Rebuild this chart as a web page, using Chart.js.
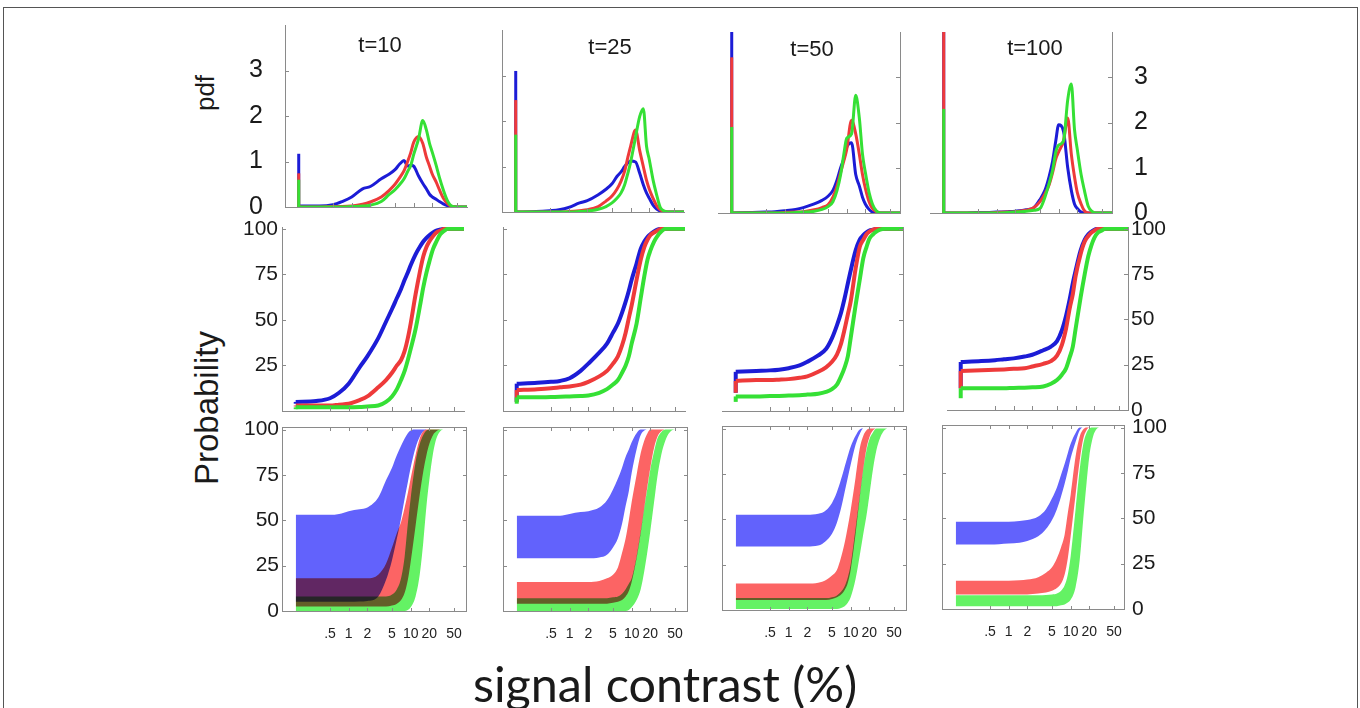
<!DOCTYPE html>
<html>
<head>
<meta charset="utf-8">
<script src="https://cdn.jsdelivr.net/npm/chart.js@4.4.0/dist/chart.umd.min.js"></script>
<style>
  html, body { margin: 0; padding: 0; background: #fff; }
  body { width: 1360px; height: 708px; position: relative; overflow: hidden; font-family: "Liberation Sans", Arial, sans-serif; }
  .frame { position: absolute; left: 3px; top: 7px; width: 1353px; height: 720px; border: 1px solid #555; }
  .panel { position: absolute; }
  .lbl { position: absolute; color: #1a1a1a; white-space: nowrap; transform: translate(-50%, -50%); }
  .rot { transform: translate(-50%, -50%) rotate(-90deg); }
</style>
</head>
<body>
<div class="frame"></div>
<div class="lbl rot" style="left:205px;top:93px;font-size:26px;">pdf</div>
<div class="lbl rot" style="left:207px;top:408px;font-size:33px;">Probability</div>
<div class="lbl" style="left:665px;top:683px;font-size:48.5px;font-family:Lato,'Open Sans',sans-serif;">signal contrast (%)</div>

<script>
const contrastGrid = [0.14, 0.3, 0.5, 0.7, 1, 1.5, 2, 3, 4, 5, 6, 7, 8, 9, 10, 12, 14, 16, 18, 20, 23, 26, 30, 35, 40, 50, 78];
const xTicks = [0.5, 1, 2, 5, 10, 20, 50];
const xTickLabels = [".5", "1", "2", "5", "10", "20", "50"];
const timeLabels = ["t=10", "t=25", "t=50", "t=100"];

// top row : pdf, one array per time step (t=10, 25, 50, 100)
const pdfBlue = [
  [0.02,0.02,0.05,0.12,0.22,0.4,0.45,0.62,0.72,0.82,0.95,1.02,0.9,0.92,0.9,0.68,0.52,0.4,0.28,0.22,0.17,0.12,0.07,0.03,0.01,0,0],
  [0,0.01,0.03,0.05,0.1,0.2,0.25,0.38,0.5,0.62,0.78,0.88,1.0,1.08,1.12,1.1,0.85,0.6,0.42,0.3,0.15,0.07,0.02,0,0,0,0],
  [0,0.01,0.02,0.03,0.05,0.08,0.12,0.2,0.28,0.37,0.5,0.73,1.0,1.2,1.45,1.55,0.85,0.6,0.35,0.2,0.08,0.02,0,0,0,0,0],
  [0,0,0.01,0.01,0.02,0.03,0.04,0.07,0.12,0.3,0.5,0.8,1.15,1.6,1.95,1.8,1.0,0.5,0.2,0.1,0.02,0,0,0,0,0,0]
];
const pdfRed = [
  [0,0,0.01,0.01,0.02,0.06,0.11,0.22,0.36,0.5,0.65,0.8,1.0,1.2,1.42,1.55,1.4,1.1,0.9,0.72,0.55,0.38,0.2,0.08,0.02,0,0],
  [0,0,0,0,0.01,0.03,0.05,0.12,0.24,0.35,0.5,0.68,0.9,1.2,1.45,1.8,1.35,1.0,0.7,0.5,0.3,0.15,0.05,0.01,0,0,0],
  [0,0,0,0,0.01,0.02,0.03,0.07,0.12,0.18,0.35,0.6,0.9,1.15,1.4,2.05,1.75,1.3,0.85,0.55,0.25,0.1,0.03,0,0,0,0],
  [0,0,0,0,0.01,0.02,0.03,0.06,0.12,0.25,0.42,0.62,0.9,1.2,1.35,1.6,2.1,1.3,0.8,0.45,0.2,0.05,0,0,0,0,0]
];
const pdfGreen = [
  [0,0,0,0,0.01,0.02,0.04,0.12,0.27,0.38,0.5,0.62,0.78,0.92,1.15,1.5,1.9,1.7,1.4,1.2,0.92,0.65,0.38,0.14,0.03,0,0],
  [0,0,0,0,0,0.01,0.02,0.06,0.12,0.2,0.3,0.42,0.6,0.85,1.1,1.65,2.1,2.27,1.45,1.15,0.7,0.4,0.1,0.02,0,0,0],
  [0,0,0,0,0,0.01,0.02,0.04,0.08,0.14,0.25,0.5,0.85,1.3,1.65,1.75,2.6,2.1,1.3,0.9,0.45,0.2,0.05,0,0,0,0],
  [0,0,0,0,0,0.01,0.02,0.04,0.06,0.1,0.35,0.65,0.95,1.35,1.5,1.6,2.5,2.85,1.85,1.4,0.85,0.5,0.15,0.03,0,0,0]
];
// height of the spike at zero contrast
const spikeBlue = [1.17, 3.1, 4.3, 4.3];
const spikeRed = [0.74, 2.46, 3.44, 4.3];
const spikeGreen = [0.6, 1.7, 1.9, 2.3];

// middle row : probability curves (%)
const cdfBlue = [
  [5,5.5,7,10,15,24,30,40,49,56,62,67,72,76,80,86,90,93,95,96.5,98,99,99.6,100,100,100,100],
  [15,15.5,16,16.5,18,22,26,32,37,43,48,54,60,66,72,81,89,93,95.5,97,98.5,99.5,100,100,100,100,100],
  [21.5,22,22.3,22.7,23.5,25,27,30.5,34,40,47,54,62,70,77,88,94,96.5,98,99,99.5,100,100,100,100,100,100],
  [26.5,27,27.5,28,28.5,29.5,30.5,33,35,38,44,52,61,70,77,88,94,97,98.5,99.5,100,100,100,100,100,100,100]
];
const cdfRed = [
  [3,3,3,3.5,4,6,8,13,17,21,25,28,33,40,48,64,76,85,90,93,96,98,99,100,100,100,100],
  [11.5,12,12.5,13,13.5,14.5,16,19,22,26,30,36,43,51,58,72,83,90,94,96.5,98,99,100,100,100,100,100],
  [16.5,17,17,17.2,17.5,18.2,19,21.5,24,27,31,37,45,53,60,78,90,94,97,98.5,99.5,100,100,100,100,100,100],
  [21.5,22,22.2,22.4,22.7,23,24,25.5,27,30,36,45,56,64,74,86,93,96,98,99,100,100,100,100,100,100,100]
];
const cdfGreen = [
  [2,2,2,2,2,2.2,2.5,3,5,8,12,17,22,28,34,45,57,68,76,82,89,93,97,99,100,100,100],
  [7.5,7.5,7.7,7.8,8,8.2,8.5,10,12,14.5,17,21,25,30,37,48,62,74,83,88,93,96,98.5,100,100,100,100],
  [8,8,8.2,8.3,8.5,8.7,9,9.5,10.5,12,14.5,19,24,30,40,58,72,84,90,94.5,97,98.5,99.5,100,100,100,100],
  [12,12,12,12,12.2,12.3,12.5,13,14.5,16.5,19.5,23,29,35,45,62,75,85,91,95,98,99,100,100,100,100,100]
];
// value where each probability curve starts, before its first jump
const cdfStartBlue = [4, 5, 10, 12];
const cdfStartRed = [2.5, 5, 10, 12];
const cdfStartGreen = [1, 4, 5, 6.5];

// bottom row : shaded ranges (%), upper and lower edge
const bandBlueHi = [
  [53,53,53,53.5,55,56,57,62.5,72,79,86,91,95,98,99.5,100,100,100,100,100,100,100,100,100,100,100,100],
  [52.5,52.5,52.5,52.5,53.5,54.5,55,57,61,67,73,79,85,89,93,98,100,100,100,100,100,100,100,100,100,100,100],
  [52.5,52.5,52.5,52.5,52.5,52.5,52.5,53,55,59,65,72,79,85,90,96,99.5,100,100,100,100,100,100,100,100,100,100],
  [48,48,48,48,48,48.5,49,51,55,61,67,74,80,86,91,97,100,100,100,100,100,100,100,100,100,100,100]
];
const bandBlueLo = [
  [5,5,5,5,5,5.2,5.5,8,17,28,40,51,62,71,79,90,96,99,100,100,100,100,100,100,100,100,100],
  [29,29,29,29,29,29,29,29.5,31,35,40,48,58,66,76,89,97,99.5,100,100,100,100,100,100,100,100,100],
  [35,35,35,35,35,35,35,35.5,38,42,48,56,65,73,80,91,97,100,100,100,100,100,100,100,100,100,100],
  [35.5,35.5,35.5,35.7,36,36.5,37.5,40,44,49,55,62,69,76,83,92,98.5,100,100,100,100,100,100,100,100,100,100]
];
const bandRedHi = [
  [18,18,18,18,18,18,18,20,26,35,43,49,57,65,73,86,95,99,100,100,100,100,100,100,100,100,100],
  [16,16,16,16,16,16,16,16.5,18,20,24,32,40,50,60,75,87,94,98,100,100,100,100,100,100,100,100],
  [14.5,14.5,14.5,14.5,14.5,14.5,14.5,15,16.5,19,22,29,37,46,55,73,89,96,99,100,100,100,100,100,100,100,100],
  [15.5,15.5,15.5,15.5,15.5,15.8,16.2,17.5,20,23,28,34,41,53,63,84,95,99,100,100,100,100,100,100,100,100,100]
];
const bandRedLo = [
  [2.5,2.5,2.5,2.5,2.5,2.5,2.5,2.5,2.5,3,4,6,10,17,27,47,64,77,86,92,97,99,100,100,100,100,100],
  [4,4,4,4,4,4,4,4,4,4.5,5,6,8,11,16,29,43,57,69,79,90,96,99,100,100,100,100],
  [5.5,5.5,5.5,5.5,5.5,5.5,5.5,5.5,5.5,6,7,8.5,11,15,22,42,62,78,89,95,99,100,100,100,100,100,100],
  [8,8,8,8,8,8,8,8.5,9,10,11.5,14,19,28,40,63,82,94,98.5,100,100,100,100,100,100,100,100]
];
const bandGreenHi = [
  [8,8,8,8,8,8,8,8,8,9,12,18,30,48,62,82,92,97,99.5,100,100,100,100,100,100,100,100],
  [7,7,7,7,7,7,7,7,7,7.5,8,9.5,12,15,18,30,44,57,68,78,88,95,98.5,100,100,100,100],
  [6.5,6.5,6.5,6.5,6.5,6.5,6.5,6.5,6.5,7,8,10,13,18,25,45,63,78,88,94,98,100,100,100,100,100,100],
  [7.5,7.5,7.5,7.5,7.5,7.5,7.5,7.5,7.7,8,8.5,10,13,19,29,55,77,91,97,99.5,100,100,100,100,100,100,100]
];
const bandGreenLo = [
  [0,0,0,0,0,0,0,0,0,0,0,0,0,0.5,2,8,20,38,58,72,87,95,99,100,100,100,100],
  [0,0,0,0,0,0,0,0,0,0,0,0,0,0.5,2,6,12,22,33,44,60,74,86,94,98,100,100],
  [0.5,0.5,0.5,0.5,0.5,0.5,0.5,0.5,0.5,0.5,0.5,1,2,4,7,17,30,42,52,63,78,88,95,99,100,100,100],
  [1.5,1.5,1.5,1.5,1.5,1.5,1.5,1.5,1.5,1.5,1.5,2,2.5,3.5,5,12,27,50,69,84,95,99,100,100,100,100,100]
];

// colours
const BLUE = "#1c1cd6", RED = "#ee3a3a", GREEN = "#35e035";
const FILL_BLUE = "rgb(98,98,252)", FILL_RED = "rgb(252,100,100)", FILL_GREEN = "rgb(100,242,100)";
const AXIS = "#8a8a8a";

// plot boxes [left, top, right, bottom] in page pixels, per row and column
const boxes = [
  [[285, 25, 467, 207], [502, 30, 684, 212], [718, 32, 900, 213], [930, 32, 1112, 213]],
  [[282, 227, 464, 411], [503, 227, 685, 411], [722, 227, 903, 411], [947, 227, 1128, 410]],
  [[282, 427, 467, 612], [503, 427, 688, 612], [722, 426, 907, 611], [942, 425, 1125, 610]]
];
const titlePos = [[380, 45], [610, 47], [812, 49], [1035, 48]];
const PAD = { l: 60, r: 60, t: 50, b: 50 };

// axis ticks drawn pointing into the plot, plus the full frame on the bottom row
const axisTicks = {
  id: "axisTicks",
  afterDraw(chart, args, opts) {
    const { ctx, chartArea: a, scales: { x, y } } = chart;
    ctx.save();
    ctx.strokeStyle = AXIS;
    ctx.lineWidth = 1;
    if (opts.frame) {
      ctx.strokeRect(Math.round(a.left) + 0.5, Math.round(a.top) + 0.5,
        Math.round(a.right - a.left) - 1, Math.round(a.bottom - a.top) - 1);
    }
    ctx.beginPath();
    const len = 4;
    opts.sides.forEach(side => {
      const sc = side === "left" || side === "right" ? y : x;
      sc.ticks.forEach(t => {
        const p = Math.round(sc.getPixelForValue(t.value)) + 0.5;
        if (side === "bottom") { ctx.moveTo(p, a.bottom); ctx.lineTo(p, a.bottom - len); }
        if (side === "top") { ctx.moveTo(p, a.top); ctx.lineTo(p, a.top + len); }
        if (side === "left") { ctx.moveTo(a.left, p); ctx.lineTo(a.left + len, p); }
        if (side === "right") { ctx.moveTo(a.right, p); ctx.lineTo(a.right - len, p); }
      });
    });
    ctx.stroke();
    ctx.restore();
  }
};

// the ranges are blended like overlapping filters
const multiply = {
  id: "multiply",
  beforeDatasetsDraw(chart, args, opts) {
    chart.ctx.save();
    if (opts.on) chart.ctx.globalCompositeOperation = "multiply";
  },
  afterDatasetsDraw(chart) { chart.ctx.restore(); }
};

const xy = vals => contrastGrid.map((c, i) => ({ x: c, y: vals[i] }));
const stub = (from, to) => [{ x: contrastGrid[0], y: from }, { x: contrastGrid[0], y: to }];

function lineSet(data, color, width, smooth) {
  return {
    data, borderColor: color, borderWidth: width, pointRadius: 0, fill: false,
    tension: 0, cubicInterpolationMode: smooth ? "monotone" : "default"
  };
}

function rowDatasets(row, col) {
  if (row === 0) {
    return [
      lineSet(stub(0, spikeGreen[col]), GREEN, 3, false),
      lineSet(xy(pdfGreen[col]), GREEN, 3, true),
      lineSet(stub(0, spikeRed[col]), RED, 3, false),
      lineSet(xy(pdfRed[col]), RED, 3, true),
      lineSet(stub(0, spikeBlue[col]), BLUE, 3, false),
      lineSet(xy(pdfBlue[col]), BLUE, 3, true)
    ];
  }
  if (row === 1) {
    return [
      lineSet(stub(cdfStartGreen[col], cdfGreen[col][0]), GREEN, 4, false),
      lineSet(xy(cdfGreen[col]), GREEN, 4, true),
      lineSet(stub(cdfStartRed[col], cdfRed[col][0]), RED, 4, false),
      lineSet(xy(cdfRed[col]), RED, 4, true),
      lineSet(stub(cdfStartBlue[col], cdfBlue[col][0]), BLUE, 4, false),
      lineSet(xy(cdfBlue[col]), BLUE, 4, true)
    ];
  }
  const band = (hi, lo, color) => [
    { data: xy(hi[col]), borderWidth: 0, pointRadius: 0, fill: "+1", backgroundColor: color, cubicInterpolationMode: "monotone" },
    { data: xy(lo[col]), borderWidth: 0, pointRadius: 0, fill: false, cubicInterpolationMode: "monotone" }
  ];
  return [...band(bandBlueHi, bandBlueLo, FILL_BLUE), ...band(bandRedHi, bandRedLo, FILL_RED), ...band(bandGreenHi, bandGreenLo, FILL_GREEN)];
}

// y axis per row; pad = label gap on the left column, right column
const rowY = [
  { min: 0, max: 4, ticks: [0, 1, 2, 3], font: 25, pad: [22, 22] },
  { min: 0, max: 101, ticks: [0, 25, 50, 75, 100], font: 21, pad: [4, 3] },
  { min: -0.6, max: 101.4, ticks: [0, 25, 50, 75, 100], font: 21, pad: [3, 7] }
];

function makePanel(row, col) {
  const [l, t, r, b] = boxes[row][col];
  const W = r - l + PAD.l + PAD.r, H = b - t + PAD.t + PAD.b;
  const div = document.createElement("div");
  div.className = "panel";
  div.style.left = (l - PAD.l) + "px";
  div.style.top = (t - PAD.t) + "px";
  div.style.width = W + "px";
  div.style.height = H + "px";
  const cv = document.createElement("canvas");
  cv.width = W; cv.height = H;
  div.appendChild(cv);
  document.body.appendChild(div);

  const yPos = col < 2 ? "left" : "right";
  const showY = col === 0 || col === 3;
  const ry = rowY[row];
  let yTicks = ry.ticks;
  if (row === 1 && col === 0) yTicks = [25, 50, 75, 100];
  const sides = row === 2 ? ["bottom", "top", "left", "right"] : ["bottom", yPos];

  new Chart(cv, {
    type: "line",
    data: { datasets: rowDatasets(row, col) },
    plugins: [axisTicks, multiply],
    options: {
      responsive: false,
      animation: false,
      events: [],
      layout: { padding: { left: yPos === "left" ? 0 : PAD.l, right: yPos === "right" ? 0 : PAD.r, top: PAD.t, bottom: 0 } },
      plugins: {
        legend: { display: false },
        tooltip: { enabled: false },
        axisTicks: { sides, frame: row === 2 },
        multiply: { on: row === 2 }
      },
      scales: {
        x: {
          type: "logarithmic",
          min: 0.5 * Math.pow(10, -48 / 62),
          max: 0.5 * Math.pow(10, (r - l - 48) / 62),
          afterFit: s => { s.height = PAD.b; },
          afterBuildTicks: s => { s.ticks = xTicks.map(v => ({ value: v })); },
          grid: { display: false, drawTicks: false },
          border: { display: row < 2, color: AXIS, width: 1 },
          ticks: {
            display: row === 2, autoSkip: false, maxRotation: 0, padding: 14,
            color: "#222", font: { size: 14, family: "Liberation Sans" },
            callback: (v, i) => xTickLabels[i]
          }
        },
        y: {
          position: yPos,
          min: ry.min,
          max: ry.max,
          afterFit: s => { s.width = yPos === "left" ? PAD.l : PAD.r; },
          afterBuildTicks: s => { s.ticks = yTicks.map(v => ({ value: v })); },
          grid: { display: false, drawTicks: false },
          border: { display: row < 2, color: AXIS, width: 1 },
          ticks: {
            display: showY, padding: ry.pad[col === 0 ? 0 : 1],
            color: "#1a1a1a", font: { size: ry.font, family: "Liberation Sans" }
          }
        }
      }
    }
  });
}

for (let row = 0; row < 3; row++) {
  for (let col = 0; col < 4; col++) makePanel(row, col);
}

timeLabels.forEach((txt, i) => {
  const d = document.createElement("div");
  d.className = "lbl";
  d.style.left = titlePos[i][0] + "px";
  d.style.top = titlePos[i][1] + "px";
  d.style.fontSize = "22px";
  d.textContent = txt;
  document.body.appendChild(d);
});
</script>
</body>
</html>
